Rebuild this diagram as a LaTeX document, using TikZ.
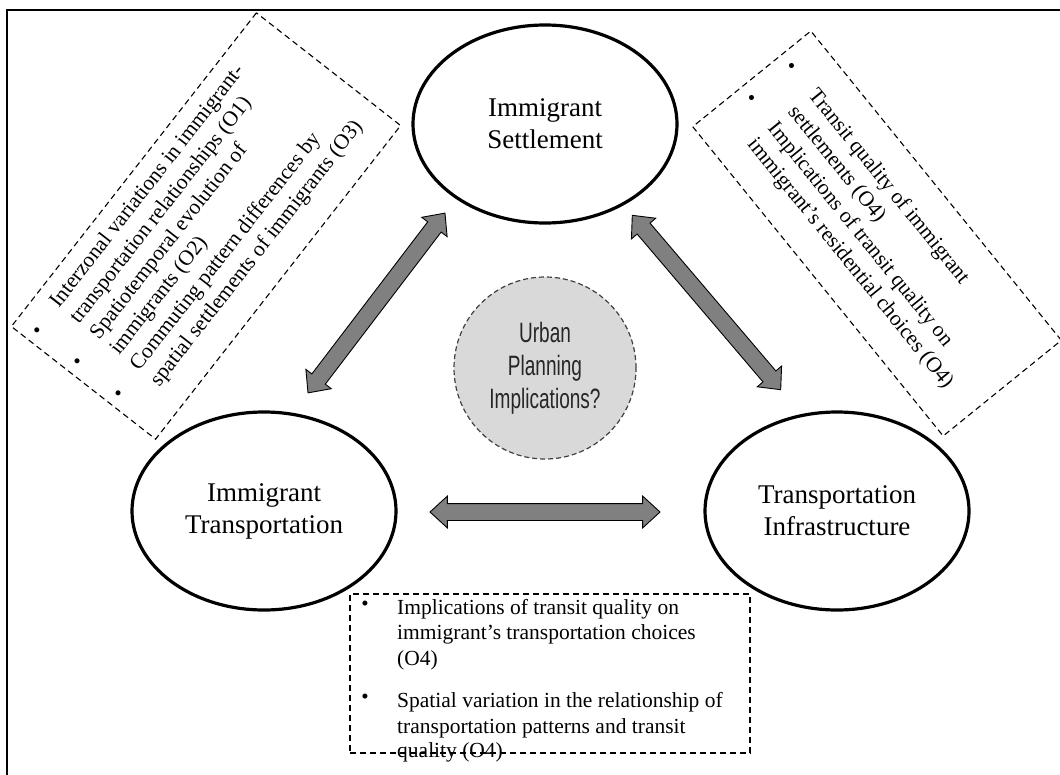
\documentclass[tikz,border=0pt]{standalone}
\usepackage{fontspec}
\setmainfont{Liberation Serif}
\newfontfamily\agency[FakeStretch=0.68]{Liberation Sans}
\usetikzlibrary{shapes.geometric,shapes.arrows,calc}
\definecolor{arrowgray}{HTML}{808080}
\definecolor{circgray}{HTML}{D9D9D9}
\tikzset{
  bigell/.style={ellipse, draw, line width=3.2pt, minimum width=264pt, minimum height=198pt,
    inner sep=0pt, align=center, font=\fontsize{27}{32}\selectfont},
  note/.style={anchor=base west, inner sep=0pt, font=\fontsize{21.5}{25}\selectfont},
  bul/.style={anchor=center, inner sep=0pt, font=\fontsize{21}{25}\selectfont},
  notebox/.style={draw, dash pattern=on 6pt off 4pt, line width=1.1pt, inner sep=0pt},
  blockarrow/.style={double arrow, draw=black, fill=arrowgray, line width=0.9pt,
    inner xsep=0pt, inner ysep=8pt, double arrow head extend=7.5pt, double arrow tip angle=85},
}
\begin{document}
\begin{tikzpicture}[x=1pt,y=1pt]
\useasboundingbox (0,-774) rectangle (1060,0);
% outer frame
\draw[line width=2.2pt] (7,-780) -- (7,-10) -- (1066,-10);

% main ellipses
\node[bigell] (set) at (545,-124) {Immigrant\\Settlement};
\node[bigell] (itr) at (264,-511) {Immigrant\\Transportation};
\node[bigell] (inf) at (837,-511) {Transportation\\Infrastructure};

% centre circle
\node[circle, draw=black!75, fill=circgray, dash pattern=on 5pt off 3pt, line width=1.2pt,
      minimum size=182pt, inner sep=0pt, align=center, text=black!85,
      font=\agency\fontsize{28}{33}\selectfont] (urb) at (545,-368) {Urban\\Planning\\Implications?};

% arrow end points
\coordinate (a1s) at (308,-393);
\coordinate (a1e) at (445,-213);
\coordinate (a2s) at (632,-215);
\coordinate (a2e) at (781,-390);
\coordinate (a3s) at (430,-512);
\coordinate (a3e) at (660,-512);
\node[blockarrow, rotate=52.7, minimum height=226pt] (arrL) at ($(a1s)!0.5!(a1e)$) {};
\node[blockarrow, rotate=-49.6, minimum height=229pt] (arrR) at ($(a2s)!0.5!(a2e)$) {};
\node[blockarrow, minimum height=230pt] (arrB) at ($(a3s)!0.5!(a3e)$) {};

% left rotated note box
\node[notebox, rotate=52, minimum width=398pt, minimum height=183pt] (lbox) at (206,-226) {};
\begin{scope}[shift={(206,-226)}, rotate=52, transform shape]
  \node[bul] (lb1) at (-186,67) {•};
  \node[bul] (lb2) at (-186,16) {•};
  \node[bul] (lb3) at (-186,-36) {•};
  \node[note] (lt1) at (-156,65) {Interzonal variations in immigrant-};
  \node[note] (lt2) at (-156,39.5) {transportation relationships (O1)};
  \node[note] (lt3) at (-156,14) {Spatiotemporal evolution of};
  \node[note] (lt4) at (-156,-11.5) {immigrants (O2)};
  \node[note] (lt5) at (-156,-37) {Commuting pattern differences by};
  \node[note] (lt6) at (-156,-62.5) {spatial settlements of immigrants (O3)};
\end{scope}

% right rotated note box
\node[notebox, rotate=-51, minimum width=398pt, minimum height=152pt] (rbox) at (877,-233.5) {};
\begin{scope}[shift={(877,-233.5)}, rotate=-51, transform shape]
  \node[bul] (rb1) at (-184,37) {•};
  \node[bul] (rb2) at (-184,-14.7) {•};
  \node[note] (rt1) at (-151,32.7) {Transit quality of immigrant};
  \node[note] (rt2) at (-151,6.7) {settlements (O4)};
  \node[note] (rt3) at (-151,-19.3) {Implications of transit quality on};
  \node[note] (rt4) at (-151,-45.3) {immigrant’s residential choices (O4)};
\end{scope}

% bottom note box
\node[notebox, minimum width=400pt, minimum height=159pt] (bbox) at (550,-673.5) {};
\node[bul] (bb1) at (365,-606) {•};
\node[bul] (bb2) at (365,-699) {•};
\node[note] (bt1) at (397,-614) {Implications of transit quality on};
\node[note] (bt2) at (397,-639) {immigrant’s transportation choices};
\node[note] (bt3) at (397,-665) {(O4)};
\node[note] (bt4) at (397,-707) {Spatial variation in the relationship of};
\node[note] (bt5) at (397,-733) {transportation patterns and transit};
\node[note] (bt6) at (397,-757) {quality (O4)};
\end{tikzpicture}
\end{document}
